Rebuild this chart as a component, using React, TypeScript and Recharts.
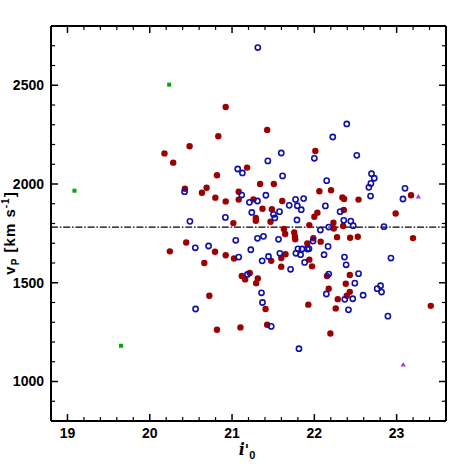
import React from "react";
import {
  ScatterChart,
  Scatter,
  XAxis,
  YAxis,
  ReferenceLine,
} from "recharts";

// ---- data ----
const redX = [20.923, 21.427, 20.833, 20.484, 20.179, 20.285, 22.012, 21.183, 20.817, 21.341, 21.508, 20.427, 20.691, 20.634, 21.081, 20.797, 21.081, 20.923, 21.26, 22.061, 22.203, 22.341, 22.362, 22.537, 23.175, 21.61, 21.37, 21.484, 22.037, 22.0, 22.358, 22.988, 21.289, 21.289, 21.467, 21.016, 21.939, 22.232, 22.236, 22.35, 21.63, 21.646, 21.756, 21.764, 21.768, 21.988, 22.077, 21.915, 22.276, 22.435, 22.528, 23.199, 20.443, 20.244, 20.793, 20.923, 21.024, 21.65, 21.598, 21.476, 21.598, 21.939, 21.972, 20.663, 21.118, 21.159, 21.215, 21.313, 21.293, 22.154, 22.382, 22.431, 22.175, 22.285, 22.394, 22.431, 20.724, 21.407, 21.927, 22.26, 23.415, 21.427, 21.102, 20.817, 22.195];
const redY = [2390, 2274, 2242, 2191, 2155, 2108, 2167, 2083, 2044, 2000, 2000, 1976, 1981, 1956, 1961, 1931, 1921, 1912, 1922, 1963, 1968, 1932, 1924, 1921, 1943, 1914, 1875, 1872, 1855, 1834, 1868, 1851, 1828, 1814, 1809, 1802, 1792, 1804, 1775, 1787, 1772, 1747, 1755, 1733, 1720, 1725, 1708, 1699, 1731, 1728, 1733, 1726, 1704, 1659, 1657, 1639, 1623, 1644, 1625, 1611, 1581, 1617, 1583, 1600, 1534, 1517, 1549, 1522, 1498, 1534, 1495, 1539, 1470, 1417, 1434, 1454, 1434, 1367, 1389, 1370, 1383, 1287, 1274, 1262, 1243];

const blueX = [21.313, 22.394, 22.224, 22.516, 21.598, 22.0, 21.435, 21.069, 21.126, 21.614, 22.15, 22.695, 22.728, 22.687, 22.663, 22.683, 23.102, 23.077, 20.423, 21.118, 21.411, 21.211, 21.309, 21.772, 21.87, 21.695, 21.793, 21.841, 22.134, 21.24, 21.504, 21.577, 21.52, 22.313, 22.358, 22.443, 22.472, 20.488, 20.919, 21.789, 22.175, 22.073, 22.846, 21.045, 21.309, 21.382, 21.565, 21.984, 22.167, 20.553, 20.715, 21.228, 21.081, 21.366, 21.443, 21.581, 21.776, 21.801, 21.833, 21.85, 21.915, 21.935, 21.711, 21.882, 22.118, 22.366, 22.386, 22.931, 21.187, 22.175, 22.537, 22.492, 21.358, 21.37, 22.146, 22.37, 22.467, 22.593, 22.764, 22.805, 22.817, 22.894, 22.415, 20.557, 21.476, 21.813];
const blueY = [2691, 2304, 2238, 2145, 2157, 2130, 2117, 2076, 2056, 2041, 2017, 2052, 2029, 2003, 1983, 1939, 1978, 1924, 1961, 1944, 1943, 1907, 1914, 1922, 1926, 1892, 1890, 1870, 1889, 1856, 1846, 1860, 1828, 1860, 1816, 1812, 1789, 1811, 1831, 1818, 1782, 1767, 1784, 1715, 1725, 1735, 1720, 1711, 1684, 1677, 1686, 1667, 1630, 1611, 1633, 1649, 1649, 1672, 1642, 1671, 1671, 1672, 1568, 1603, 1642, 1630, 1591, 1625, 1542, 1544, 1546, 1498, 1449, 1400, 1443, 1416, 1419, 1437, 1470, 1485, 1453, 1331, 1363, 1367, 1279, 1166];

const greenX = [19.085, 20.236, 19.65];
const greenY = [1966, 2503, 1181];

const purpleX = [23.264, 23.08];
const purpleY = [1937, 1086];

const meanVelocity = 1782;

const xDomain = [18.8, 23.6];
const yDomain = [800, 2800];
const xMajorTicks = [19, 20, 21, 22, 23];
const xMinorTicks = [19.2, 19.4, 19.6, 19.8, 20.2, 20.4, 20.6, 20.8, 21.2, 21.4, 21.6, 21.8, 22.2, 22.4, 22.6, 22.8, 23.2, 23.4];
const yMajorTicks = [1000, 1500, 2000, 2500];
const yMinorTicks = [900, 1100, 1200, 1300, 1400, 1600, 1700, 1800, 1900, 2100, 2200, 2300, 2400, 2600, 2700];

const zip = (xs: number[], ys: number[]) => xs.map((x, i) => ({ x, y: ys[i] }));
const redData = zip(redX, redY);
const blueData = zip(blueX, blueY);
const greenData = zip(greenX, greenY);
const purpleData = zip(purpleX, purpleY);

// tick lengths in data units
const xTickMajLen = 35; // y-units
const xTickMinLen = 20;
const yTickMajLen = 0.085; // x-units
const yTickMinLen = 0.05;

const tickFont = { fontFamily: "Liberation Sans, Arial, sans-serif", fontWeight: 700, fontSize: 14, fill: "#000" };

const RedDot = (p: any) => <circle cx={p.cx} cy={p.cy} r={3.2} fill="#9c0000" />;
const BlueRing = (p: any) => (
  <circle cx={p.cx} cy={p.cy} r={2.6} fill="none" stroke="#1010a8" strokeWidth={1.6} />
);
const GreenSq = (p: any) => (
  <rect x={p.cx - 2} y={p.cy - 2} width={4} height={4} fill="#00a800" />
);
const PurpleTri = (p: any) => (
  <polygon
    points={`${p.cx - 2.6},${p.cy + 2} ${p.cx + 2.6},${p.cy + 2} ${p.cx},${p.cy - 2.6}`}
    fill="#a040d8"
  />
);

const YLabel = () => (
  <text
    transform="translate(15,233) rotate(-90)"
    textAnchor="middle"
    style={{ fontFamily: "Liberation Sans, Arial, sans-serif", fontWeight: 700, fontSize: 15, letterSpacing: 1 }}
    fill="#000"
  >
    <tspan>v</tspan>
    <tspan fontSize={10} dy={4}>P</tspan>
    <tspan dy={-4}> [km s</tspan>
    <tspan fontSize={10} dy={-6}>-1</tspan>
    <tspan dy={6}>]</tspan>
  </text>
);

const XLabel = () => (
  <text x={247} y={455} textAnchor="middle" fill="#000">
    <tspan style={{ fontFamily: "DejaVu Serif, serif", fontStyle: "italic", fontWeight: 700, fontSize: 16 }}>i</tspan>
    <tspan style={{ fontFamily: "DejaVu Serif, serif", fontWeight: 700, fontSize: 14 }}>'</tspan>
    <tspan dy={4} style={{ fontFamily: "Liberation Sans, Arial, sans-serif", fontWeight: 700, fontSize: 11 }}>0</tspan>
  </text>
);

export default function App() {
  return (
    <div style={{ position: "absolute", left: 0, top: 0, width: 471, height: 471, background: "#fff" }}>
      <ScatterChart width={471} height={471} margin={{ top: 24, right: 24, bottom: 20, left: 11 }}>
        <XAxis
          xAxisId={0}
          type="number"
          dataKey="x"
          domain={xDomain}
          ticks={xMajorTicks}
          allowDataOverflow
          height={30}
          tickLine={false}
          tickSize={0}
          tickMargin={7}
          axisLine={{ stroke: "#000", strokeWidth: 2 }}
          tick={tickFont}
        />
        <XAxis
          xAxisId="top"
          orientation="top"
          type="number"
          dataKey="x"
          domain={xDomain}
          allowDataOverflow
          height={2}
          tick={false}
          tickLine={false}
          axisLine={{ stroke: "#000", strokeWidth: 2 }}
        />
        <YAxis
          yAxisId={0}
          type="number"
          dataKey="y"
          domain={yDomain}
          ticks={yMajorTicks}
          allowDataOverflow
          width={40}
          tickLine={false}
          tickSize={0}
          tickMargin={7}
          axisLine={{ stroke: "#000", strokeWidth: 2 }}
          tick={tickFont}
        />
        <YAxis
          yAxisId="right"
          orientation="right"
          type="number"
          dataKey="y"
          domain={yDomain}
          allowDataOverflow
          width={1}
          tick={false}
          tickLine={false}
          axisLine={{ stroke: "#000", strokeWidth: 2 }}
        />

        {xMajorTicks.map((v) => (
          <ReferenceLine key={"xb" + v} segment={[{ x: v, y: yDomain[0] }, { x: v, y: yDomain[0] + xTickMajLen }]} stroke="#000" strokeWidth={1.5} />
        ))}
        {xMajorTicks.map((v) => (
          <ReferenceLine key={"xt" + v} segment={[{ x: v, y: yDomain[1] }, { x: v, y: yDomain[1] - xTickMajLen }]} stroke="#000" strokeWidth={1.5} />
        ))}
        {xMinorTicks.map((v) => (
          <ReferenceLine key={"xbm" + v} segment={[{ x: v, y: yDomain[0] }, { x: v, y: yDomain[0] + xTickMinLen }]} stroke="#000" strokeWidth={1.2} />
        ))}
        {xMinorTicks.map((v) => (
          <ReferenceLine key={"xtm" + v} segment={[{ x: v, y: yDomain[1] }, { x: v, y: yDomain[1] - xTickMinLen }]} stroke="#000" strokeWidth={1.2} />
        ))}
        {yMajorTicks.map((v) => (
          <ReferenceLine key={"yl" + v} segment={[{ x: xDomain[0], y: v }, { x: xDomain[0] + yTickMajLen, y: v }]} stroke="#000" strokeWidth={1.5} />
        ))}
        {yMajorTicks.map((v) => (
          <ReferenceLine key={"yr" + v} segment={[{ x: xDomain[1], y: v }, { x: xDomain[1] - yTickMajLen, y: v }]} stroke="#000" strokeWidth={1.5} />
        ))}
        {yMinorTicks.map((v) => (
          <ReferenceLine key={"ylm" + v} segment={[{ x: xDomain[0], y: v }, { x: xDomain[0] + yTickMinLen, y: v }]} stroke="#000" strokeWidth={1.2} />
        ))}
        {yMinorTicks.map((v) => (
          <ReferenceLine key={"yrm" + v} segment={[{ x: xDomain[1], y: v }, { x: xDomain[1] - yTickMinLen, y: v }]} stroke="#000" strokeWidth={1.2} />
        ))}

        <ReferenceLine y={meanVelocity} stroke="#000" strokeWidth={1.3} strokeDasharray="7 1.8 1.6 1.8" />

        <Scatter data={redData} shape={RedDot} isAnimationActive={false} />
        <Scatter data={blueData} shape={BlueRing} isAnimationActive={false} />
        <Scatter data={greenData} shape={GreenSq} isAnimationActive={false} />
        <Scatter data={purpleData} shape={PurpleTri} isAnimationActive={false} />
      </ScatterChart>
      <svg width={471} height={471} style={{ position: "absolute", left: 0, top: 0, pointerEvents: "none" }}>
        <YLabel />
        <XLabel />
      </svg>
    </div>
  );
}
